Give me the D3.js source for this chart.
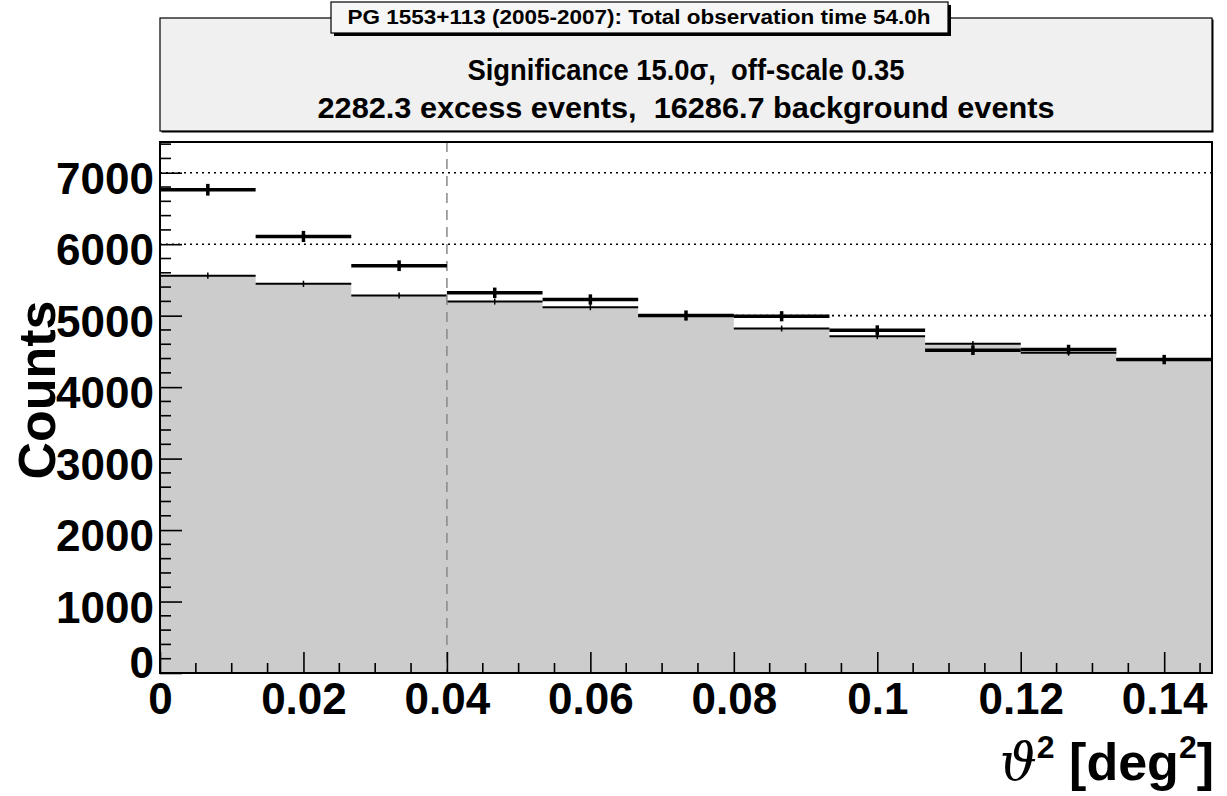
<!DOCTYPE html>
<html>
<head>
<meta charset="utf-8">
<script src="https://cdn.jsdelivr.net/npm/d3@7"></script>
<style>
  html, body { margin: 0; padding: 0; background: #ffffff; }
  svg { display: block; }
  text { white-space: pre; }
</style>
</head>
<body>
<svg id="chart" width="1227" height="796"></svg>
<script>
// ---------- data ----------
const binWidth = 0.04 / 3;
const binLow = [0, 1, 2, 3, 4, 5, 6, 7, 8, 9, 10].map(i => i * binWidth);
const onCounts  = [6762, 6108, 5699, 5320, 5226, 5002, 4992, 4796, 4516, 4526, 4386];
const onErr     = [82, 78, 75, 73, 72, 71, 71, 69, 67, 67, 66];
const offCounts = [5560, 5445, 5282, 5198, 5118, 5000, 4820, 4712, 4606, 4480, 4390];
const offErr    = [44, 44, 43, 43, 42, 42, 41, 41, 40, 40, 39];
const xTickValues = [0, 0.02, 0.04, 0.06, 0.08, 0.1, 0.12, 0.14];
const xTickLabels = ["0", "0.02", "0.04", "0.06", "0.08", "0.1", "0.12", "0.14"];
const yTickValues = [0, 1000, 2000, 3000, 4000, 5000, 6000, 7000];
const yTickLabels = ["0", "1000", "2000", "3000", "4000", "5000", "6000", "7000"];
const gridValues = [5000, 6000, 7000];
const thetaCut = 0.04;
const titleText = "PG 1553+113 (2005-2007): Total observation time 54.0h";
const statLine1 = "Significance 15.0\u03C3,  off-scale 0.35";
const statLine2 = "2282.3 excess events,  16286.7 background events";

// ---------- layout ----------
const L = 160, R = 1212, T = 142, B = 673;
const svg = d3.select("#chart");
const x = d3.scaleLinear().domain([0, 11 * binWidth]).range([L, R]);
const y = d3.scaleLinear().domain([0, 7430]).range([B, T]);
const FONT = "'Liberation Sans', Arial, Helvetica, sans-serif";

// ---------- stats pave ----------
svg.append("rect").attr("x", L + 1.5).attr("y", 19.5).attr("width", R - L).attr("height", 113)
  .attr("fill", "#000");
svg.append("rect").attr("x", L).attr("y", 18).attr("width", R - L).attr("height", 113)
  .attr("fill", "#f0f0f0").attr("stroke", "#000").attr("stroke-width", 1.2);
svg.append("text").attr("x", (L + R) / 2).attr("y", 80).attr("text-anchor", "middle")
  .attr("font-family", FONT).attr("font-weight", "bold").attr("font-size", 30)
  .attr("textLength", 437).attr("lengthAdjust", "spacingAndGlyphs")
  .text(statLine1);
svg.append("text").attr("x", (L + R) / 2).attr("y", 118).attr("text-anchor", "middle")
  .attr("font-family", FONT).attr("font-weight", "bold").attr("font-size", 30)
  .attr("textLength", 737).attr("lengthAdjust", "spacingAndGlyphs")
  .text(statLine2);

// ---------- title pave ----------
svg.append("rect").attr("x", 334).attr("y", 5).attr("width", 617).attr("height", 31).attr("fill", "#000");
svg.append("rect").attr("x", 331).attr("y", 2).attr("width", 617).attr("height", 31)
  .attr("fill", "#f6f6f6").attr("stroke", "#000").attr("stroke-width", 1.2);
svg.append("text").attr("x", 639).attr("y", 24).attr("text-anchor", "middle")
  .attr("font-family", FONT).attr("font-weight", "bold").attr("font-size", 20)
  .attr("textLength", 583).attr("lengthAdjust", "spacingAndGlyphs")
  .text(titleText);

// ---------- plot area ----------
svg.append("rect").attr("x", L).attr("y", T).attr("width", R - L).attr("height", B - T).attr("fill", "#fff");

// dotted grid
svg.append("g").selectAll("line").data(gridValues).join("line")
  .attr("x1", L).attr("x2", R).attr("y1", d => y(d)).attr("y2", d => y(d))
  .attr("stroke", "#000").attr("stroke-width", 1.6).attr("stroke-dasharray", "2,4");

// OFF histogram fill (step area)
const idx = d3.range(binLow.length);
const stepPts = idx.map(i => [binLow[i], offCounts[i]]).concat([[11 * binWidth, offCounts[offCounts.length - 1]]]);
const area = d3.area().x(d => x(d[0])).y0(B).y1(d => y(d[1])).curve(d3.curveStepAfter);
svg.append("path").datum(stepPts).attr("d", area).attr("fill", "#cccccc");

// OFF lines + errors
const gOff = svg.append("g").attr("stroke", "#000");
gOff.selectAll("line.h").data(idx).join("line").attr("class", "h")
  .attr("x1", i => x(binLow[i])).attr("x2", i => x(binLow[i] + binWidth))
  .attr("y1", i => y(offCounts[i])).attr("y2", i => y(offCounts[i])).attr("stroke-width", 2);
gOff.selectAll("line.e").data(idx).join("line").attr("class", "e")
  .attr("x1", i => x(binLow[i] + binWidth / 2)).attr("x2", i => x(binLow[i] + binWidth / 2))
  .attr("y1", i => y(offCounts[i] - offErr[i])).attr("y2", i => y(offCounts[i] + offErr[i]))
  .attr("stroke-width", 1.5);

// cut line
svg.append("line").attr("x1", x(thetaCut)).attr("x2", x(thetaCut)).attr("y1", T).attr("y2", B)
  .attr("stroke", "#888").attr("stroke-width", 1.5).attr("stroke-dasharray", "10,7");

// ON points
const gOn = svg.append("g").attr("stroke", "#000");
gOn.selectAll("line.h").data(idx).join("line").attr("class", "h")
  .attr("x1", i => x(binLow[i])).attr("x2", i => x(binLow[i] + binWidth))
  .attr("y1", i => y(onCounts[i])).attr("y2", i => y(onCounts[i])).attr("stroke-width", 3.5);
gOn.selectAll("line.e").data(idx).join("line").attr("class", "e")
  .attr("x1", i => x(binLow[i] + binWidth / 2)).attr("x2", i => x(binLow[i] + binWidth / 2))
  .attr("y1", i => y(onCounts[i] - onErr[i])).attr("y2", i => y(onCounts[i] + onErr[i]))
  .attr("stroke-width", 3.5);

// ---------- axes ----------
// y minor ticks
const yMinor = d3.range(0, 7430, 200).filter(v => v % 1000 !== 0);
svg.append("g").selectAll("line").data(yMinor).join("line")
  .attr("x1", L).attr("x2", L + 11).attr("y1", d => y(d)).attr("y2", d => y(d))
  .attr("stroke", "#000").attr("stroke-width", 1.6);
const yAxis = d3.axisLeft(y).tickValues(yTickValues).tickSizeInner(-22).tickSizeOuter(0)
  .tickFormat((d, i) => yTickLabels[i]).tickPadding(6);
const gy = svg.append("g").attr("transform", `translate(${L},0)`).call(yAxis);
gy.select(".domain").remove();
gy.selectAll(".tick line").attr("stroke", "#000").attr("stroke-width", 1.6);
gy.selectAll(".tick text").attr("font-family", FONT).attr("font-weight", "bold")
  .attr("font-size", 44).attr("fill", "#000").attr("dy", d => d === 0 ? "0.1em" : "0.47em");

// x minor ticks
const xMinor = d3.range(0, 0.1467, 0.005).filter(v => Math.abs(v / 0.02 - Math.round(v / 0.02)) > 1e-6);
svg.append("g").selectAll("line").data(xMinor).join("line")
  .attr("x1", d => x(d)).attr("x2", d => x(d)).attr("y1", B).attr("y2", B - 10)
  .attr("stroke", "#000").attr("stroke-width", 1.6);
const xAxis = d3.axisBottom(x).tickValues(xTickValues).tickSizeInner(-21).tickSizeOuter(0)
  .tickFormat((d, i) => xTickLabels[i]).tickPadding(10);
const gx = svg.append("g").attr("transform", `translate(0,${B})`).call(xAxis);
gx.select(".domain").remove();
gx.selectAll(".tick line").attr("stroke", "#000").attr("stroke-width", 1.6);
gx.selectAll(".tick text").attr("font-family", FONT).attr("font-weight", "bold")
  .attr("font-size", 44).attr("fill", "#000").attr("dy", "0.71em");

// frame
svg.append("rect").attr("x", L).attr("y", T).attr("width", R - L).attr("height", B - T)
  .attr("fill", "none").attr("stroke", "#000").attr("stroke-width", 2);

// axis titles
const xt = svg.append("text").attr("x", R + 2).attr("y", 780).attr("text-anchor", "end")
  .attr("font-family", FONT).attr("font-weight", "bold").attr("font-size", 52).attr("fill", "#000");
xt.append("tspan").attr("font-family", "'DejaVu Serif', 'Liberation Serif', serif")
  .attr("font-weight", "normal").attr("font-style", "italic").text("\u03D1");
xt.append("tspan").attr("font-size", 32).attr("dy", -22).text("2");
xt.append("tspan").attr("dy", 22).text(" [deg");
xt.append("tspan").attr("font-size", 32).attr("dy", -22).text("2");
xt.append("tspan").attr("dy", 22).text("]");

svg.append("text").attr("transform", `translate(55,390) rotate(-90)`)
  .attr("text-anchor", "middle").attr("font-family", FONT).attr("font-weight", "bold")
  .attr("font-size", 52).attr("fill", "#000").text("Counts");
</script>
</body>
</html>
